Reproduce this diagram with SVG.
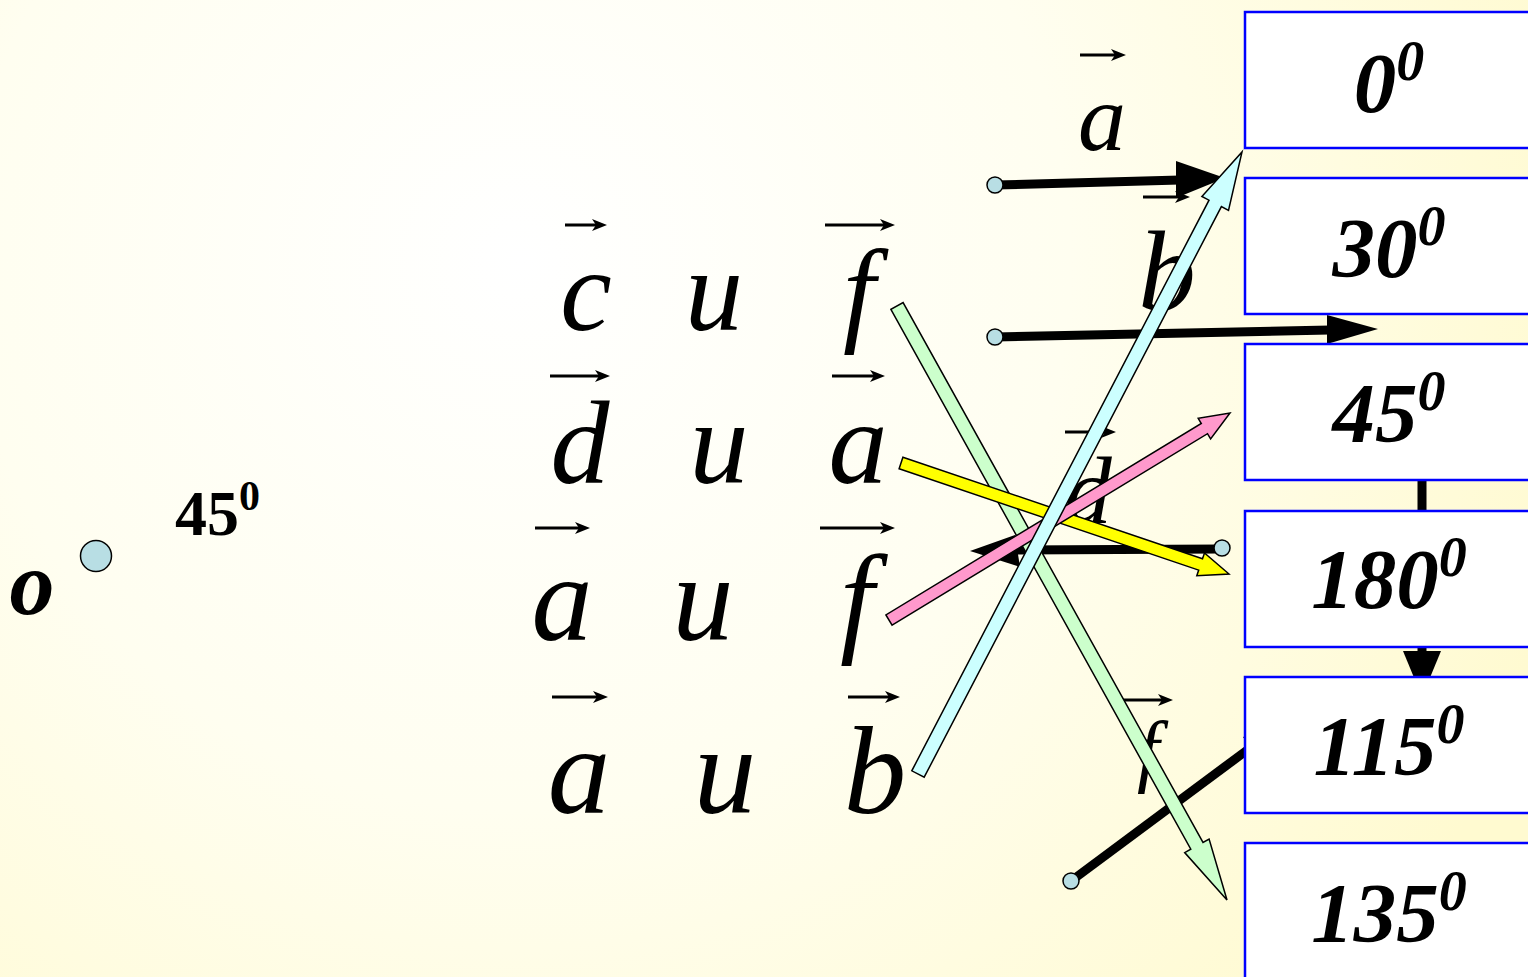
<svg xmlns="http://www.w3.org/2000/svg" width="1528" height="977" viewBox="0 0 1528 977">
<defs>
<radialGradient id="bg" gradientUnits="userSpaceOnUse" cx="520" cy="260" r="1100">
<stop offset="0" stop-color="#FFFFFF"/>
<stop offset="0.5" stop-color="#FFFEF0"/>
<stop offset="1" stop-color="#FFFAD0"/>
</radialGradient>
<marker id="vh" markerUnits="userSpaceOnUse" markerWidth="16" markerHeight="14" refX="7" refY="7" orient="auto">
<path d="M0,1 L15,7 L0,13 L4,7 z" fill="#000"/>
</marker>
<style>
.lbl{font-family:"Liberation Serif","Times New Roman",serif;font-style:italic;fill:#000;text-anchor:middle}
.vec{stroke:#000;stroke-width:3;fill:none;marker-end:url(#vh)}
.blk{stroke:#000;stroke-width:9;fill:none}
.head{fill:#000;stroke:none}
.dot{fill:#B8DEE4;stroke:#000;stroke-width:1.5}
.ba{stroke:#000;stroke-width:1.5;stroke-linejoin:miter}
.box rect{fill:#FFFFFF;stroke:#0000FF;stroke-width:2.5}
.box text{font-family:"Liberation Serif","Times New Roman",serif;font-style:italic;font-weight:bold;font-size:85px;text-anchor:middle;fill:#000}
.sup{font-size:56px}
</style>
</defs>
<rect x="0" y="0" width="1528" height="977" fill="url(#bg)"/>

<g id="origin">
<circle class="dot" cx="96" cy="556" r="15.5"/>
<text x="32" y="614" style="font-family:'Liberation Serif',serif;font-style:italic;font-weight:bold;font-size:90px;text-anchor:middle">o</text>
<text x="175" y="535" style="font-family:'Liberation Serif',serif;font-weight:bold;font-size:64px">45<tspan dy="-25" font-size="42">0</tspan></text>
</g>

<g id="left-labels">
<text class="lbl" x="586" y="330" font-size="116">c</text>
<text class="lbl" x="714" y="330" font-size="116">u</text>
<text class="lbl" x="859" y="330" font-size="116">f</text>
<path class="vec" d="M565,225 H599"/>
<path class="vec" d="M825,225 H887"/>

<text class="lbl" x="580" y="483" font-size="118">d</text>
<text class="lbl" x="719" y="483" font-size="118">u</text>
<text class="lbl" x="858" y="483" font-size="118">a</text>
<path class="vec" d="M550,376 H602"/>
<path class="vec" d="M832,376 H877"/>

<text class="lbl" x="562" y="640" font-size="122">a</text>
<text class="lbl" x="703" y="640" font-size="122">u</text>
<text class="lbl" x="857" y="640" font-size="122">f</text>
<path class="vec" d="M535,528 H582"/>
<path class="vec" d="M820,528 H887"/>

<text class="lbl" x="579" y="813" font-size="125">a</text>
<text class="lbl" x="725" y="813" font-size="125">u</text>
<text class="lbl" x="875" y="813" font-size="125">b</text>
<path class="vec" d="M552,697 H600"/>
<path class="vec" d="M848,697 H892"/>
</g>

<g id="right-labels">
<text class="lbl" x="1102" y="150" font-size="96">a</text>
<path class="vec" d="M1080,55 H1118"/>
<text class="lbl" x="1167" y="310" font-size="115">b</text>
<path class="vec" d="M1143,197 H1182"/>
<text class="lbl" x="1088" y="523" font-size="95">d</text>
<path class="vec" d="M1065,432 H1108"/>
<text class="lbl" x="1148" y="777" font-size="80">f</text>
<path class="vec" d="M1123,700 H1165"/>
</g>

<g id="connectors">
<path class="blk" d="M995,185 L1180,180"/>
<polygon class="head" points="1176,161 1225,178 1176,198"/>
<path class="blk" d="M995,337 L1330,330"/>
<polygon class="head" points="1327,315 1378,329 1327,344"/>
<path class="blk" d="M1222,549 L1015,550"/>
<polygon class="head" points="1015,535 970,551 1020,567"/>
<path class="blk" d="M1071,881 L1250,748"/>
<polygon class="head" points="1243,737 1291,721 1262,763"/>
<path class="blk" d="M1422,420 L1422,655"/>
<polygon class="head" points="1403,651 1441,651 1422,697"/>
<circle class="dot" cx="995" cy="185" r="8"/>
<circle class="dot" cx="995" cy="337" r="8"/>
<circle class="dot" cx="1222" cy="548" r="8"/>
<circle class="dot" cx="1071" cy="881" r="8"/>
<polygon class="ba" fill="#CCFFCC" points="890.9,309.4 1190.8,849.2 1184.7,852.6 1227,900 1209.1,839.0 1203.0,842.4 903.1,302.6"/>
<polygon class="ba" fill="#FFFF00" points="899.1,468.7 1198.7,570.1 1196.8,575.8 1229,574 1204.5,553.0 1202.5,558.7 902.9,457.3"/>
<polygon class="ba" fill="#FF99CC" points="892.1,625.1 1207.5,433.7 1210.6,438.9 1230,413 1198.2,418.3 1201.3,423.5 885.9,614.9"/>
<polygon class="ba" fill="#CCFFFF" points="924.2,777.2 1221.4,206.6 1228.5,210.3 1242,152 1201.9,196.5 1209.0,200.2 911.8,770.8"/>
</g>

<g id="box-0" class="box"><rect x="1245" y="12" width="300" height="136"/><text x="1389" y="112">0<tspan class="sup" dy="-32">0</tspan></text></g>
<g id="box-30" class="box"><rect x="1245" y="178" width="300" height="136"/><text x="1389" y="277">30<tspan class="sup" dy="-32">0</tspan></text></g>
<g id="box-45" class="box"><rect x="1245" y="344" width="300" height="136"/><text x="1389" y="442">45<tspan class="sup" dy="-32">0</tspan></text></g>
<g id="box-180" class="box"><rect x="1245" y="511" width="300" height="136"/><text x="1389" y="608">180<tspan class="sup" dy="-32">0</tspan></text></g>
<g id="box-115" class="box"><rect x="1245" y="677" width="300" height="136"/><text x="1389" y="775">115<tspan class="sup" dy="-32">0</tspan></text></g>
<g id="box-135" class="box"><rect x="1245" y="843" width="300" height="140"/><text x="1389" y="942">135<tspan class="sup" dy="-32">0</tspan></text></g>
</svg>
